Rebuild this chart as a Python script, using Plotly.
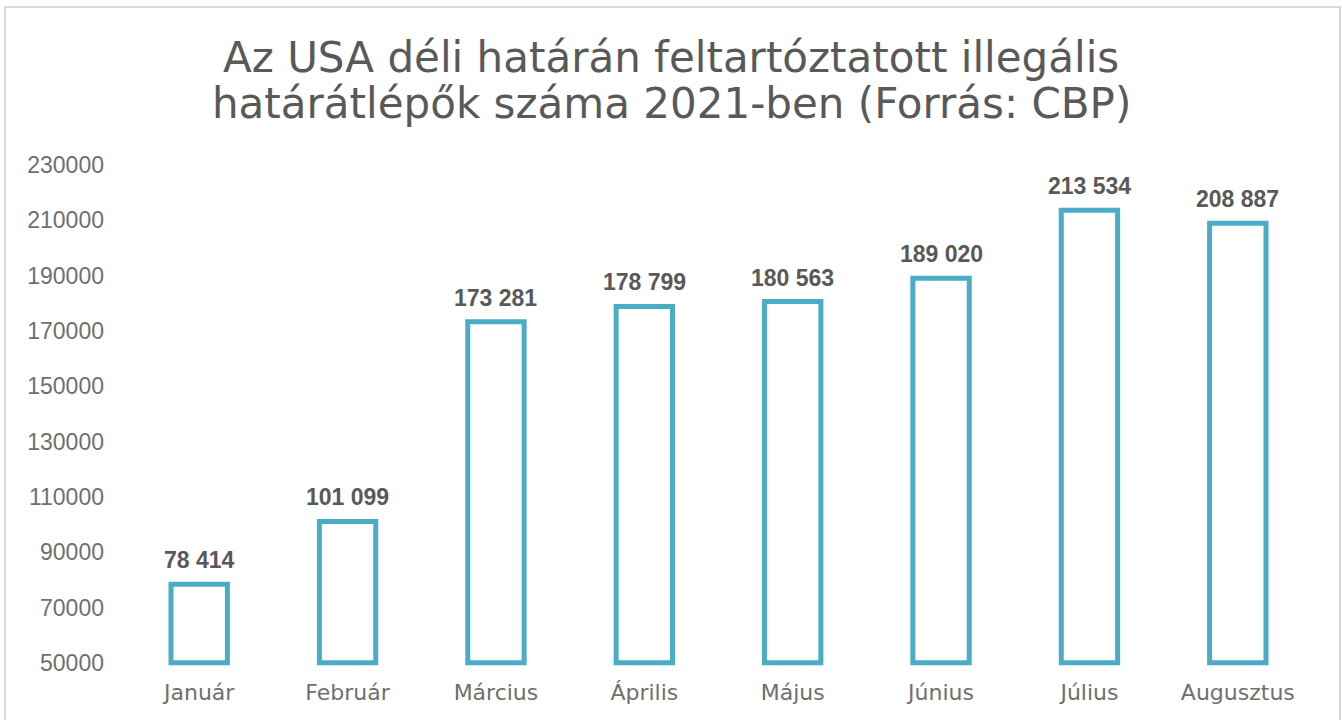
import plotly.graph_objects as go

months = ["Január", "Február", "Március", "Április", "Május", "Június", "Július", "Augusztus"]
values = [78414, 101099, 173281, 178799, 180563, 189020, 213534, 208887]
axis_base = 50000
tick_values = list(range(50000, 230001, 20000))
title_lines = ["Az USA déli határán feltartóztatott illegális",
               "határátlépők száma 2021-ben (Forrás: CBP)"]

labels = [f"{v:,}".replace(",", " ") for v in values]

fig = go.Figure(go.Bar(
    x=months,
    y=[v - axis_base for v in values],
    base=[axis_base] * len(values),
    marker=dict(color="white", line=dict(color="#4BACC6", width=5)),
    hovertext=labels,
))

for m, v, t in zip(months, values, labels):
    fig.add_annotation(x=m, y=v, text=t, showarrow=False, yanchor="bottom", yshift=9,
                       font=dict(family="Liberation Sans", size=23, color="#595959", weight="bold"))

# title lines (plot area spans 125..1312 px horizontally, 162..667 px vertically)
for line, ypx in zip(title_lines, [57, 104]):
    fig.add_annotation(text=line, showarrow=False, xref="paper", yref="paper",
                       x=(671 - 125) / 1187, y=1 + (162 - ypx) / 505,
                       xanchor="center", yanchor="middle",
                       font=dict(family="DejaVu Sans", size=42, color="#595959"))

fig.update_layout(
    width=1342, height=720,
    paper_bgcolor="white", plot_bgcolor="white",
    margin=dict(l=125, r=30, t=162, b=53),
    bargap=0.62,
    showlegend=False,
    xaxis=dict(showgrid=False, showline=False, ticks="", zeroline=False,
               ticklabelstandoff=10,
               tickfont=dict(family="DejaVu Sans", size=22, color="#6F6F6F")),
    yaxis=dict(range=[48500, 231000], tickvals=tick_values,
               ticktext=[str(t) for t in tick_values],
               showgrid=False, showline=False, ticks="", zeroline=False,
               ticklabelstandoff=20,
               tickfont=dict(family="Liberation Sans", size=23, color="#6F6F6F")),
    shapes=[dict(type="rect", xref="paper", yref="paper",
                 x0=-0.1011, x1=1.0236, y0=-0.3, y1=1.307,
                 line=dict(color="#D9D9D9", width=2), fillcolor="rgba(0,0,0,0)",
                 layer="below")],
)

fig.write_html("out.html", config={"displayModeBar": False},
               post_script="document.body.style.margin='0';document.body.style.overflow='hidden';")
